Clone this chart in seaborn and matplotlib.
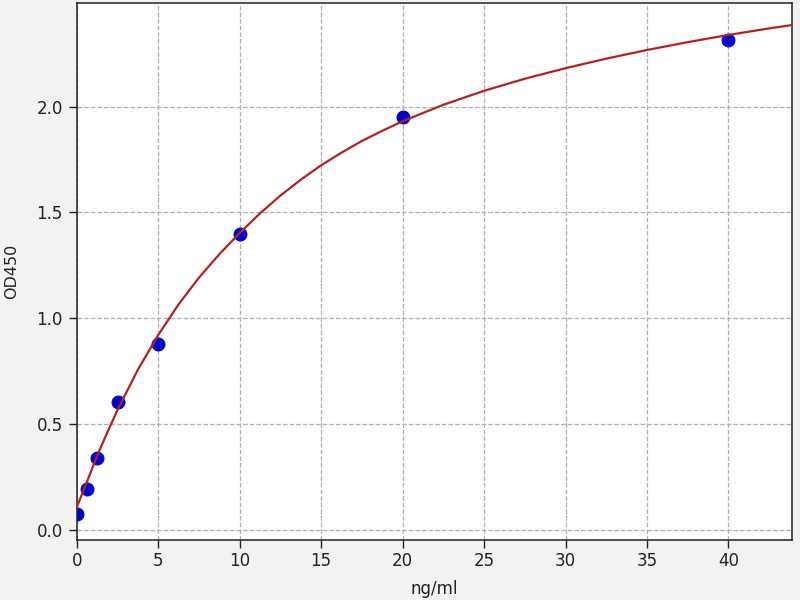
import numpy as np
import pandas as pd
import matplotlib
matplotlib.use('Agg')
import matplotlib.pyplot as plt
import seaborn as sns

# ── Data ───────────────────────────────────────────────
conc = [0, 0.625, 1.25, 2.5, 5, 10, 20, 40]
od450 = [0.074, 0.193, 0.341, 0.605, 0.879, 1.397, 1.95, 2.315]

# fitted standard curve
curve_x = [0, 0.625, 1.25, 1.875, 2.5, 3.75, 5, 6.25, 7.5, 8.75, 10,
           11.25, 12.5, 13.75, 15, 16.25, 17.5, 18.75, 20, 22.5, 25,
           27.5, 30, 32.5, 35, 37.5, 40, 42.5, 44]
curve_y = [0.107, 0.227, 0.350, 0.461, 0.567, 0.757, 0.921, 1.066, 1.192,
           1.303, 1.403, 1.496, 1.580, 1.655, 1.723, 1.783, 1.838, 1.886,
           1.931, 2.009, 2.075, 2.132, 2.182, 2.227, 2.268, 2.305, 2.339,
           2.370, 2.387]

x_ticks = [0, 5, 10, 15, 20, 25, 30, 35, 40]
y_ticks = [0.0, 0.5, 1.0, 1.5, 2.0]

pts = pd.DataFrame({'conc': conc, 'od': od450})
fit = pd.DataFrame({'conc': curve_x, 'od': curve_y})

# ── Plot ───────────────────────────────────────────────
sns.set_style('ticks')
plt.rcParams['font.family'] = ['DejaVu Sans']

fig = plt.figure(figsize=(8, 6), dpi=100, facecolor='#f2f2f2')
ax = fig.add_axes([0.096, 0.1, 0.894, 0.895])
ax.set_facecolor('white')

sns.scatterplot(data=pts, x='conc', y='od', ax=ax, color='#0000cc',
                edgecolor='#0000cc', s=85, linewidth=0.8, zorder=2)
sns.lineplot(data=fit, x='conc', y='od', ax=ax, color='#b22222',
             linewidth=1.6, zorder=3, sort=True)

ax.set_xlim(0, 43.9)
ax.set_ylim(-0.048, 2.49)
ax.set_xticks(x_ticks)
ax.set_yticks(y_ticks)
ax.set_yticklabels([f'{v:.1f}' for v in y_ticks])
ax.tick_params(labelsize=12, length=5.5, width=1, color='#222222',
               labelcolor='#222222')
ax.tick_params(axis='y', pad=4.5)

ax.grid(True, linestyle='--', color='#b0b0b0', linewidth=0.9)
ax.set_axisbelow(True)
for s in ax.spines.values():
    s.set_visible(True)
    s.set_color('#222222')
    s.set_linewidth(1.1)

ax.set_xlabel('ng/ml', fontsize=12, color='#222222', va='center')
ax.set_ylabel('OD450', fontsize=11.5, color='#222222', va='center')
ax.xaxis.set_label_coords(0.5, -0.091)
ax.yaxis.set_label_coords(-0.091, 0.5)

plt.savefig('out.png', dpi=100, facecolor=fig.get_facecolor())
